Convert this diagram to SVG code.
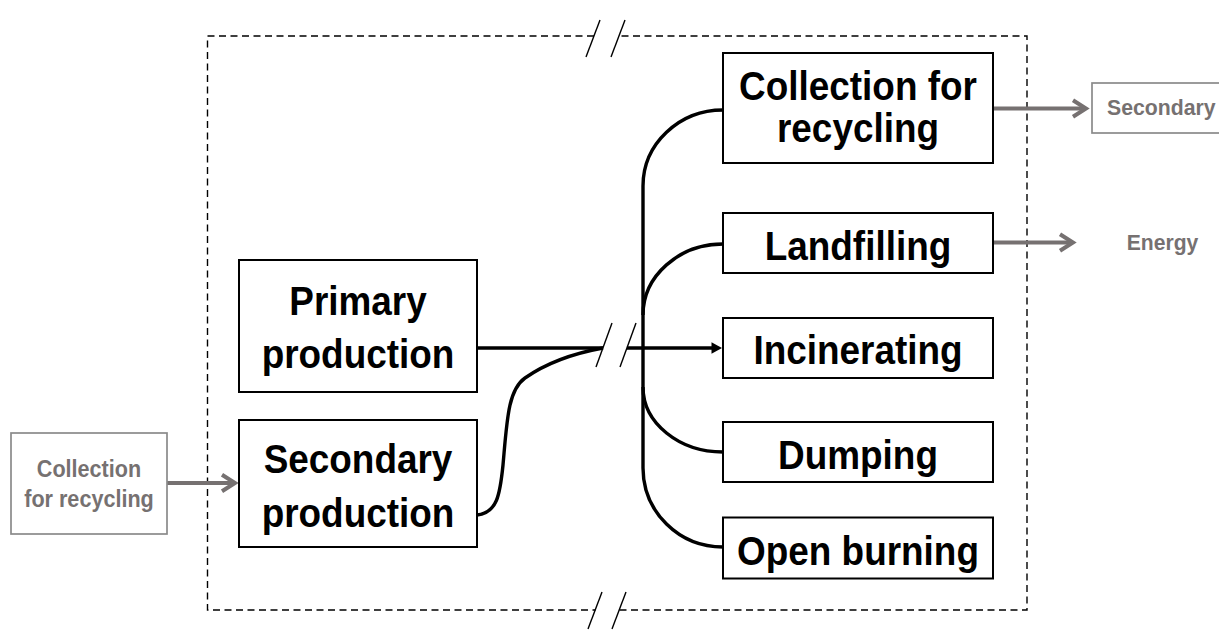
<svg xmlns="http://www.w3.org/2000/svg" width="1219" height="630" viewBox="0 0 1219 630">
  <style>
    .box { fill: #ffffff; stroke: #000000; stroke-width: 2; }
    .gbox { fill: #ffffff; stroke: #8a8a8a; stroke-width: 1.7; }
    .t { font-family: "Liberation Sans", Arial, sans-serif; font-weight: bold; font-size: 41px; fill: #000000; text-anchor: middle; }
    .gt { font-family: "Liberation Sans", Arial, sans-serif; font-weight: bold; fill: #767171; }
    .frame { fill: none; stroke: #000000; stroke-width: 1.4; stroke-dasharray: 7 4.5; }
    .slash { fill: none; stroke: #000000; stroke-width: 1.4; }
    .conn { fill: none; stroke: #000000; stroke-width: 3.4; }
    .garrow { fill: none; stroke: #767171; stroke-width: 4; }
  </style>
  <defs>
    <marker id="chev" markerUnits="userSpaceOnUse" viewBox="-16 -12 22 24" markerWidth="22" markerHeight="24" refX="0" refY="0" orient="auto" overflow="visible">
      <path d="M-13,-8.3 L0,0 L-13,8.3" fill="none" stroke="#767171" stroke-width="4" stroke-linejoin="miter"/>
    </marker>
    <marker id="tri" markerUnits="userSpaceOnUse" viewBox="-4 -8 14 16" markerWidth="14" markerHeight="16" refX="0" refY="0" orient="auto" overflow="visible">
      <path d="M-2.5,-5.7 L8,0 L-2.5,5.7 Z" fill="#000000"/>
    </marker>
  </defs>
  <rect width="1219" height="630" fill="#ffffff"/>

  <g id="frame">
    <path class="frame" d="M594,36 H207.5 V610 H595.5"/>
    <path class="frame" d="M619.5,610 H1027 V36 H619"/>
    <line class="slash" x1="586" y1="57" x2="600" y2="20"/>
    <line class="slash" x1="611" y1="57" x2="625" y2="20"/>
    <line class="slash" x1="588" y1="629" x2="602" y2="592"/>
    <line class="slash" x1="612" y1="629" x2="626" y2="592"/>
  </g>

  <g id="connectors">
    <path class="conn" d="M477,348 H603"/>
    <path class="conn" d="M477,515 C497,513 500,495 503,465 C507,420 508,390 525,378 C545,364 570,354 603,348"/>
    <path class="conn" d="M627,348 H714" marker-end="url(#tri)"/>
    <line class="slash" x1="596" y1="367" x2="612" y2="323"/>
    <line class="slash" x1="620" y1="367" x2="636" y2="323"/>
    <path class="conn" d="M723,110 C679,110 643,144 643,186 L643,468 C643,512 679,547 723,547"/>
    <path class="conn" d="M723,244 C679,244 643,276 643,315"/>
    <path class="conn" d="M643,387 C643,423 679,452 723,452"/>
    <path class="garrow" d="M167,483 H235" marker-end="url(#chev)"/>
    <path class="garrow" d="M993,108.5 H1086" marker-end="url(#chev)"/>
    <path class="garrow" d="M993,242.5 H1073" marker-end="url(#chev)"/>
  </g>

  <g id="in-collection">
    <rect class="gbox" x="11" y="433" width="156" height="101"/>
    <text class="gt" x="89" y="477" font-size="24" text-anchor="middle" textLength="104.4" lengthAdjust="spacingAndGlyphs">Collection</text>
    <text class="gt" x="89" y="507" font-size="24" text-anchor="middle" textLength="129.6" lengthAdjust="spacingAndGlyphs">for recycling</text>
  </g>

  <g id="primary">
    <rect class="box" x="239" y="260" width="238" height="132"/>
    <text class="t" x="358" y="315" textLength="137.4" lengthAdjust="spacingAndGlyphs">Primary</text>
    <text class="t" x="358" y="368" textLength="192.7" lengthAdjust="spacingAndGlyphs">production</text>
  </g>

  <g id="secondary">
    <rect class="box" x="239" y="420" width="238" height="127"/>
    <text class="t" x="358" y="473" textLength="188.7" lengthAdjust="spacingAndGlyphs">Secondary</text>
    <text class="t" x="358" y="527" textLength="192.7" lengthAdjust="spacingAndGlyphs">production</text>
  </g>

  <g id="collection">
    <rect class="box" x="723" y="53" width="270" height="110"/>
    <text class="t" x="858" y="100" textLength="237.8" lengthAdjust="spacingAndGlyphs">Collection for</text>
    <text class="t" x="858" y="141.5" textLength="162" lengthAdjust="spacingAndGlyphs">recycling</text>
  </g>

  <g id="landfilling">
    <rect class="box" x="723" y="213" width="270" height="60"/>
    <text class="t" x="858" y="260" textLength="186.6" lengthAdjust="spacingAndGlyphs">Landfilling</text>
  </g>

  <g id="incinerating">
    <rect class="box" x="723" y="318" width="270" height="60"/>
    <text class="t" x="858" y="363.5" textLength="209.2" lengthAdjust="spacingAndGlyphs">Incinerating</text>
  </g>

  <g id="dumping">
    <rect class="box" x="723" y="422" width="270" height="60"/>
    <text class="t" x="858" y="469" textLength="159.9" lengthAdjust="spacingAndGlyphs">Dumping</text>
  </g>

  <g id="open-burning">
    <rect class="box" x="723" y="517.5" width="270" height="61"/>
    <text class="t" x="858" y="565" textLength="241.9" lengthAdjust="spacingAndGlyphs">Open burning</text>
  </g>

  <g id="out-secondary">
    <rect class="gbox" x="1092" y="83" width="140" height="50"/>
    <text class="gt" x="1107" y="115" font-size="21.5" textLength="108.5" lengthAdjust="spacingAndGlyphs">Secondary</text>
  </g>

  <g id="out-energy">
    <text class="gt" x="1162.5" y="250" font-size="21.5" text-anchor="middle" textLength="71.6" lengthAdjust="spacingAndGlyphs">Energy</text>
  </g>
</svg>
